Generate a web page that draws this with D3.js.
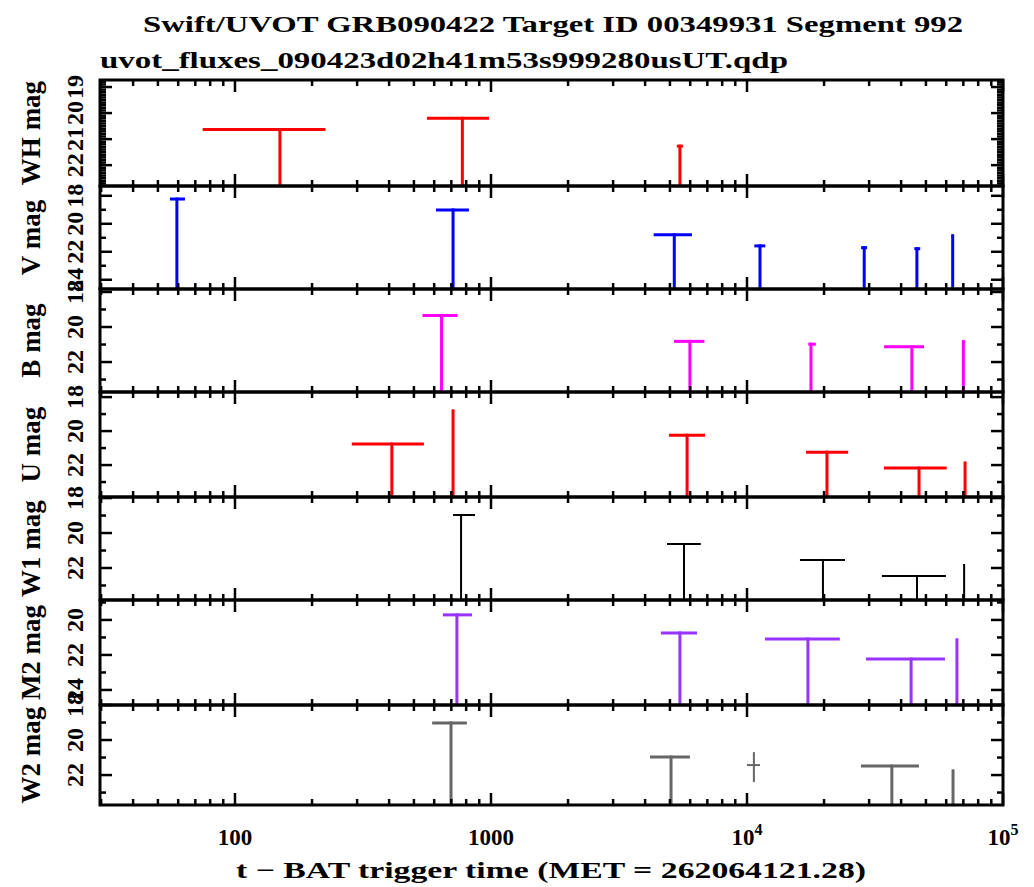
<!DOCTYPE html>
<html>
<head>
<meta charset="utf-8">
<script src="https://cdn.jsdelivr.net/npm/d3@7"></script>
<style>
  body { margin: 0; background: #fff; }
  text { font-family: "Liberation Serif", "DejaVu Serif", serif; font-weight: bold; fill: #000; }
</style>
</head>
<body>
<div id="chart"></div>
<script>
// ---- data: [t, tLow, tHigh, mag] for upper limits ----
const bands = ['WH', 'V', 'B', 'U', 'W1', 'M2', 'W2'];
const bandColors = ['#ff0000', '#0000ff', '#ff00ff', '#ff0000', '#000000', '#9933ff', '#666666'];

const whLimits = [[149.8, 74.8, 225.7, 20.63], [773, 562, 982, 20.20], [5470, 5320, 5620, 21.27]];
const vLimits = [[59.3, 55.7, 63.8, 18.23], [711, 610, 820, 19.01], [5200, 4320, 6095, 20.79],
                 [11240, 10680, 11790, 21.58], [28700, 27900, 29450, 21.71], [46100, 45040, 47500, 21.78],
                 [63600, 63000, 64200, 20.86]];
const bLimits = [[641, 540, 740, 19.34], [5985, 5190, 6820, 20.82], [17780, 17360, 18580, 20.98],
                 [44050, 34330, 49170, 21.13], [70000, 69400, 70600, 20.84]];
const uLimits = [[410, 286, 547, 20.76], [711, 705, 717, 18.82], [5835, 4955, 6855, 20.24],
                 [20530, 17000, 24840, 21.24], [46990, 34270, 60260, 22.18], [71100, 70700, 71500, 21.88]];
const w1Limits = [[764, 711, 866, 18.97], [5675, 4870, 6600, 20.63], [19800, 16100, 24150, 21.54],
                  [46150, 33650, 59850, 22.46], [70500, 70100, 70900, 21.83]];
const m2Limits = [[736, 649, 843, 19.71], [5470, 4610, 6380, 20.74], [17300, 11750, 23050, 21.09],
                  [43750, 29170, 59300, 22.23], [66070, 65500, 66600, 21.14]];
const w2Limits = [[698, 589, 805, 19.03], [5050, 4180, 5985, 20.97], [36800, 27870, 46960, 21.49],
                  [63800, 63200, 64400, 21.77]];
// W2 detection: [t, tLow, tHigh, mag, magBright, magFaint]
const w2Points = [[10640, 10000, 11240, 21.43, 20.69, 22.40]];

const allLimits = [whLimits, vLimits, bLimits, uLimits, w1Limits, m2Limits, w2Limits];
const allPoints = [[], [], [], [], [], [], w2Points];

// magnitude axes (top value, bottom value) and labelled ticks per panel
const yDomains = [[18.73, 22.8], [17.3, 24.66], [17.83, 23.71], [17.7, 23.88], [17.94, 23.83], [18.86, 24.86], [18.0, 23.71]];
const yMajor = [[19, 20, 21, 22], [18, 20, 22, 24], [18, 20, 22], [18, 20, 22], [18, 20, 22], [20, 22, 24], [18, 20, 22]];
const yMinorStep = [0.1, 1, 1, 1, 1, 1, 1];

const xDomain = [29.7, 1e5];
const xMajor = [100, 1000, 1e4, 1e5];
const xLabels = [['100', ''], ['1000', ''], ['10', '4'], ['10', '5']];

const titleText = 'Swift/UVOT GRB090422 Target ID 00349931 Segment 992';
const fileText = 'uvot_fluxes_090423d02h41m53s999280usUT.qdp';
const xTitle = 't \u2212 BAT trigger time (MET = 262064121.28)';

// ---- layout ----
const width = 1034, height = 887;
const left = 100, right = 1003;
const edges = [80, 186, 289, 392, 497, 600, 705, 805];
const widths = [3, 3, 3, 3, 2, 3, 3];

const svg = d3.select('#chart').append('svg')
    .attr('width', width)
    .attr('height', height);

const x = d3.scaleLog().domain(xDomain).range([left, right]);

// minor x ticks
const xMinor = [];
[10, 100, 1000, 10000].forEach(dec => {
  for (let k = 2; k <= 9; k++) {
    const v = dec * k;
    if (v > xDomain[0] && v < xDomain[1]) xMinor.push(v);
  }
});

bands.forEach((band, i) => {
  const y0 = edges[i], y1 = edges[i + 1];
  const y = d3.scaleLinear().domain(yDomains[i]).range([y0, y1]);
  const g = svg.append('g').attr('class', 'panel');

  g.append('clipPath').attr('id', 'clip' + i)
    .append('rect').attr('x', left).attr('y', y0).attr('width', right - left).attr('height', y1 - y0);

  const marks = g.append('g').attr('clip-path', `url(#clip${i})`)
      .attr('stroke', bandColors[i])
      .attr('stroke-width', widths[i]);

  // upper limits: horizontal bar at the limit, line dropping to fainter mags
  marks.selectAll('.hbar').data(allLimits[i]).join('line')
      .attr('x1', d => x(d[1])).attr('x2', d => x(d[2]))
      .attr('y1', d => y(d[3])).attr('y2', d => y(d[3]));
  marks.selectAll('.vbar').data(allLimits[i]).join('line')
      .attr('x1', d => x(d[0])).attr('x2', d => x(d[0]))
      .attr('y1', d => y(d[3]) - widths[i] / 2).attr('y2', y1);

  // detections
  marks.selectAll('.pt-h').data(allPoints[i]).join('line')
      .attr('stroke-width', 2)
      .attr('x1', d => x(d[1])).attr('x2', d => x(d[2]))
      .attr('y1', d => y(d[3])).attr('y2', d => y(d[3]));
  marks.selectAll('.pt-v').data(allPoints[i]).join('line')
      .attr('stroke-width', 2)
      .attr('x1', d => x(d[0])).attr('x2', d => x(d[0]))
      .attr('y1', d => y(d[4])).attr('y2', d => y(d[5]));

  // x ticks (inward, top and bottom of each panel)
  const ticks = g.append('g').attr('stroke', '#000').attr('stroke-width', 2.5);
  [[xMajor, 12], [xMinor, 6]].forEach(([vals, len]) => {
    ticks.selectAll(null).data(vals).join('line')
        .attr('x1', d => x(d)).attr('x2', d => x(d))
        .attr('y1', y1).attr('y2', y1 - len);
    ticks.selectAll(null).data(vals).join('line')
        .attr('x1', d => x(d)).attr('x2', d => x(d))
        .attr('y1', y0).attr('y2', y0 + len);
  });

  // y ticks (inward, left and right)
  const [ya, yb] = yDomains[i];
  const minors = d3.range(Math.ceil(ya / yMinorStep[i]) * yMinorStep[i], yb, yMinorStep[i])
      .filter(v => !yMajor[i].some(m => Math.abs(m - v) < 1e-6));
  [[yMajor[i], 12], [minors, 6]].forEach(([vals, len]) => {
    ticks.selectAll(null).data(vals).join('line')
        .attr('x1', left).attr('x2', left + len)
        .attr('y1', d => y(d)).attr('y2', d => y(d));
    ticks.selectAll(null).data(vals).join('line')
        .attr('x1', right).attr('x2', right - len)
        .attr('y1', d => y(d)).attr('y2', d => y(d));
  });

  // y tick labels, rotated like the original (they crowd and overlap there too)
  g.selectAll('.ylab').data(yMajor[i]).join('text')
      .attr('transform', d => `translate(${left - 17},${y(d)}) rotate(-90)`)
      .attr('text-anchor', 'middle')
      .style('font-size', '24px')
      .text(d => d);

  // band title
  g.append('text')
      .attr('transform', `translate(40,${(y0 + y1) / 2}) rotate(-90)`)
      .attr('text-anchor', 'middle')
      .style('font-size', '27px')
      .text(band + ' mag');

  // frame
  g.append('rect')
      .attr('x', left).attr('y', y0)
      .attr('width', right - left).attr('height', y1 - y0)
      .attr('fill', 'none').attr('stroke', '#000').attr('stroke-width', 3);
});

// x tick labels
const xl = svg.selectAll('.xlab').data(xMajor).join('text')
    .attr('x', d => x(d)).attr('y', 845)
    .attr('text-anchor', 'middle')
    .style('font-size', '23px');
xl.append('tspan').text((d, j) => xLabels[j][0]);
xl.append('tspan').attr('dy', -10).style('font-size', '16px').text((d, j) => xLabels[j][1]);

svg.append('text')
    .attr('x', 551).attr('y', 878)
    .attr('text-anchor', 'middle')
    .attr('textLength', 630).attr('lengthAdjust', 'spacingAndGlyphs')
    .style('font-size', '23px')
    .text(xTitle);

svg.append('text')
    .attr('x', 553).attr('y', 32)
    .attr('text-anchor', 'middle')
    .attr('textLength', 820).attr('lengthAdjust', 'spacingAndGlyphs')
    .style('font-size', '24px')
    .text(titleText);

svg.append('text')
    .attr('x', 100).attr('y', 68)
    .attr('textLength', 688).attr('lengthAdjust', 'spacingAndGlyphs')
    .style('font-size', '23px')
    .text(fileText);
</script>
</body>
</html>
